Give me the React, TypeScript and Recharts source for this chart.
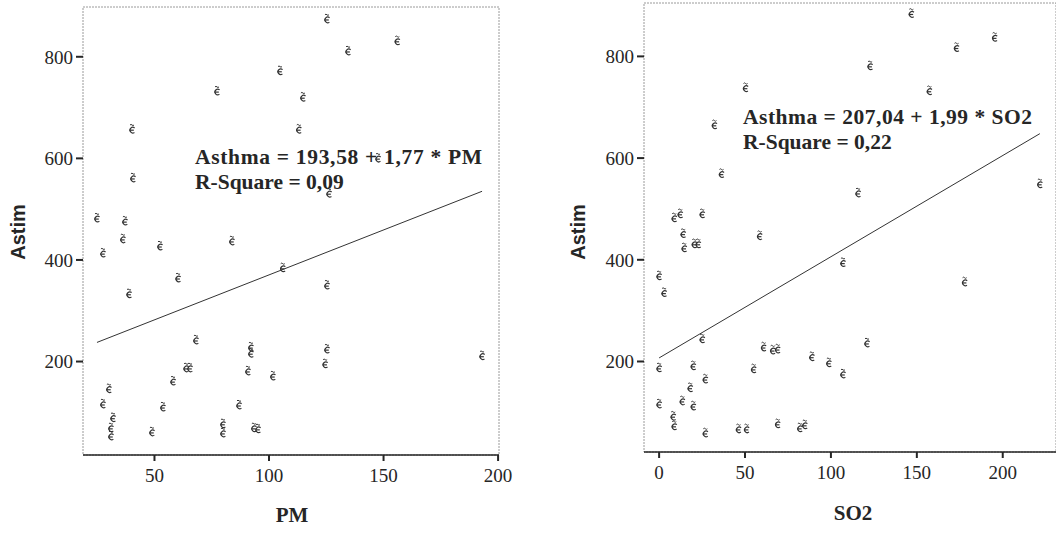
import { ReferenceArea, Scatter, ScatterChart, XAxis, YAxis } from "recharts";

// Left panel: PM vs Astim
const pmX = [
  125.3, 156, 134.5, 104.8, 114.8, 77.3, 40.2, 113, 40.6, 24.9, 37.1, 36.2, 27.5, 52.4, 83.8,
  147.6, 126.2, 106, 60.3, 38.9, 125.3, 68.1, 92.1, 92.1, 125.3, 124.5, 63.8, 65.5, 90.8,
  101.7, 58.1, 30.1, 27.5, 53.7, 86.9, 31.9, 31, 31, 48.9, 79.9, 79.9, 93.4, 95.2, 193,
];
const pmAsthma = [
  876, 833, 813, 774, 722, 734, 659, 659, 563, 484, 478, 443, 415, 429, 439,
  602, 533, 386, 366, 335, 352, 244, 230, 218, 226, 197, 189, 189, 183,
  173, 163, 148, 118, 112, 116, 91, 71, 55, 63, 79, 61, 71, 69, 213,
];

// Right panel: SO2 vs Astim
const so2X = [
  146.8, 195.3, 173.1, 122.8, 157.3, 50.3, 32.2, 36.3, 115.8, 221.6, 8.8, 12.3, 25.1, 14,
  14.6, 20.5, 22.8, 58.5, 107, 0, 2.9, 177.8, 25.1, 60.8, 66.1, 69, 121, 88.9, 98.8, 107,
  0, 19.9, 55, 26.9, 18.1, 0, 13.5, 19.9, 8.2, 8.8, 26.9, 46.2, 50.9, 69, 81.9, 84.8,
];
const so2Asthma = [
  886, 839, 819, 783, 734, 740, 667, 571, 533, 551, 484, 492, 492, 453,
  425, 433, 433, 449, 396, 370, 337, 358, 246, 230, 224, 226, 238, 211, 199, 177,
  189, 193, 187, 167, 150, 118, 124, 114, 94, 75, 61, 69, 69, 79, 71, 77,
];

const pmFit = [193.58, 1.77]; // intercept, slope
const so2Fit = [207.04, 1.99];

const pmTicks = [50, 100, 150, 200];
const so2Ticks = [0, 50, 100, 150, 200];
const yTicks = [200, 400, 600, 800];

const pmDomainX = [18.8, 200.4];
const pmDomainY = [16, 898];
const so2DomainX = [-8.8, 231];
const so2DomainY = [22, 905];

const serif = "'Liberation Serif', 'Times New Roman', serif";
const sans = "'Liberation Sans', Arial, sans-serif";
const ink = "#262626";

function toPoints(xs: number[], ys: number[]) {
  return xs.map((x, i) => ({ x, y: ys[i] }));
}

function fitLine(xs: number[], coef: number[]) {
  const lo = Math.min(...xs);
  const hi = Math.max(...xs);
  return [lo, hi].map((x) => ({ x, y: coef[0] + coef[1] * x }));
}

// rough "e with a tilde" glyph, like the scanned SPSS markers
function Marker(props: any) {
  const { cx, cy } = props;
  if (cx == null || cy == null) return <g />;
  return (
    <g stroke="#333" strokeWidth={1.2} fill="none">
      <path d={`M ${cx + 2.6} ${cy - 0.4} A 2.8 2.8 0 1 0 ${cx + 2.4} ${cy + 4}`} />
      <line x1={cx - 2.6} y1={cy + 1.8} x2={cx + 1.8} y2={cy + 1.8} />
      <path d={`M ${cx - 2} ${cy - 3.4} q 1 -1.2 2 0 t 2 0`} strokeWidth={1} />
    </g>
  );
}

function NoDot() {
  return <g />;
}

interface PanelProps {
  left: number;
  width: number;
  margin: { top: number; right: number; bottom: number; left: number };
  yWidth: number;
  xHeight: number;
  domainX: number[];
  domainY: number[];
  ticksX: number[];
  xs: number[];
  ys: number[];
  coef: number[];
}

function Panel({ left, width, margin, yWidth, xHeight, domainX, domainY, ticksX, xs, ys, coef }: PanelProps) {
  const tickStyle = { fontSize: 19, fill: ink, fontFamily: serif };
  return (
    <div style={{ position: "absolute", left, top: 0, fontFamily: serif }}>
      <ScatterChart width={width} height={534} margin={margin} style={{ fontFamily: serif }}>
        <ReferenceArea
          x1={domainX[0]}
          x2={domainX[1]}
          y1={domainY[0]}
          y2={domainY[1]}
          fill="none"
          stroke="#9a9a9a"
          strokeDasharray="2 1"
          ifOverflow="extendDomain"
        />
        <XAxis
          type="number"
          dataKey="x"
          domain={domainX}
          ticks={ticksX}
          allowDataOverflow
          height={xHeight}
          tick={tickStyle}
          tickSize={6}
          tickMargin={8}
          tickLine={{ stroke: ink, strokeWidth: 2 }}
          axisLine={{ stroke: ink, strokeWidth: 1.5 }}
        />
        <YAxis
          type="number"
          dataKey="y"
          domain={domainY}
          ticks={yTicks}
          allowDataOverflow
          width={yWidth}
          tick={tickStyle}
          tickSize={7}
          tickMargin={3}
          tickLine={{ stroke: ink, strokeWidth: 2 }}
          axisLine={false}
        />
        <Scatter data={toPoints(xs, ys)} shape={Marker} isAnimationActive={false} />
        <Scatter
          data={fitLine(xs, coef)}
          shape={NoDot}
          line={{ stroke: "#333", strokeWidth: 1 }}
          isAnimationActive={false}
        />
      </ScatterChart>
    </div>
  );
}

export default function App() {
  return (
    <div
      style={{
        position: "absolute",
        left: 0,
        top: 0,
        width: 1056,
        height: 534,
        background: "#fff",
        overflow: "hidden",
      }}
    >
      <Panel
        left={0}
        width={530}
        margin={{ top: 7, right: 31, bottom: 0, left: 0 }}
        yWidth={83}
        xHeight={79}
        domainX={pmDomainX}
        domainY={pmDomainY}
        ticksX={pmTicks}
        xs={pmX}
        ys={pmAsthma}
        coef={pmFit}
      />
      <Panel
        left={530}
        width={526}
        margin={{ top: 3, right: 0, bottom: 0, left: 0 }}
        yWidth={114}
        xHeight={82}
        domainX={so2DomainX}
        domainY={so2DomainY}
        ticksX={so2Ticks}
        xs={so2X}
        ys={so2Asthma}
        coef={so2Fit}
      />
      <svg
        width={1056}
        height={534}
        style={{ position: "absolute", left: 0, top: 0, pointerEvents: "none" }}
      >
        <g fontFamily={serif} fontWeight="bold" fontSize={21.5} fill={ink}>
          <text x={195} y={164} textLength={287} lengthAdjust="spacing">
            Asthma = 193,58 + 1,77 * PM
          </text>
          <text x={195} y={189}>R-Square = 0,09</text>
          <text x={743} y={124} textLength={289} lengthAdjust="spacing">
            Asthma = 207,04 + 1,99 * SO2
          </text>
          <text x={743} y={149}>R-Square = 0,22</text>
        </g>
        <g fontFamily={serif} fontWeight="bold" fontSize={21} fill={ink} textAnchor="middle">
          <text x={292} y={522}>PM</text>
          <text x={853} y={520}>SO2</text>
        </g>
        <g fontFamily={sans} fontWeight="bold" fontSize={20} fill={ink} textAnchor="middle">
          <text transform="translate(25,232) rotate(-90)">Astim</text>
          <text transform="translate(585,232) rotate(-90)">Astim</text>
        </g>
      </svg>
    </div>
  );
}
